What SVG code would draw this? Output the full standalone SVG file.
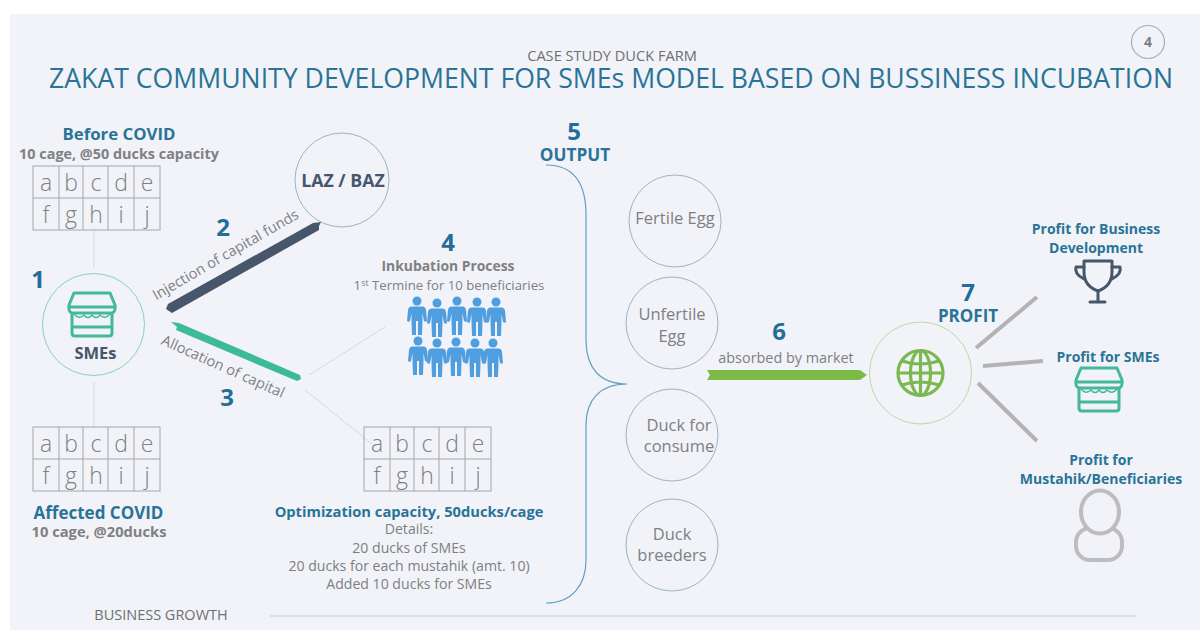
<svg xmlns="http://www.w3.org/2000/svg" xmlns:xlink="http://www.w3.org/1999/xlink" width="1200" height="630" viewBox="0 0 1200 630">
<style>
text{font-family:"Open Sans","Noto Sans","Liberation Sans",sans-serif;text-anchor:middle}
.gd{fill:#808080;font-weight:700}
.b{fill:#2a7396;font-weight:700}
.n{fill:#1f6f98;font-weight:700;font-size:24px}
.c{font-size:16.5px;fill:#808080}
.cell{font-size:23px;fill:#7f7f7f;font-weight:300}
.circ{fill:none;stroke:#9db4c0;stroke-width:1}
.thin{stroke:#d6d8dc;stroke-width:1;fill:none}
.gray{stroke:#b3b3b3;stroke-width:4;fill:none}
.grid{stroke:#a6a6a6;stroke-width:1;fill:none}
.st{fill:none;stroke:#43b89a;stroke-width:3;stroke-linejoin:round;stroke-linecap:round}
.st2{fill:none;stroke:#43b89a;stroke-width:1.5;stroke-linecap:round}
.p{fill:#4f9fe0}
.d{font-size:14.1px;fill:#7f7f7f}
.pt{font-size:14px}
</style>
<defs>
<g id="grid">
<rect x="0" y="0" width="127" height="64" class="grid"/>
<path d="M0 32H127M26 0V64M50 0V64M75 0V64M101 0V64" class="grid"/>
<text class="cell" x="13" y="25">a</text><text class="cell" x="38" y="25">b</text><text class="cell" x="63" y="25">c</text><text class="cell" x="88" y="25">d</text><text class="cell" x="114" y="25">e</text>
<text class="cell" x="13" y="57">f</text><text class="cell" x="38" y="57">g</text><text class="cell" x="63" y="57">h</text><text class="cell" x="88" y="57">i</text><text class="cell" x="114" y="57">j</text>
</g>
<g id="store">
<path class="st" d="M6 1H42L47 13Q48 20 44 21H4Q0 20 1 13ZM1 15H47M4 21V41Q4 44 7 44H41Q44 44 44 41V21M4 35H44"/>
<path class="st2" d="M6 22Q11 28 16 23Q20 28 24 23Q28 28 32 23Q37 28 42 22"/>
</g>
<g id="man" class="p">
<circle cx="0" cy="-15" r="4.500"/>
<path d="M-5.500 -9.500H5.500Q8.500 -9.500 9 -6L10 5Q8.500 6.500 7 5L5.500 -3V5L5 19H1V5H-1V19H-5L-5.500 5V-3L-7 5Q-8.500 6.500 -10 5L-9 -6Q-8.500 -9.500 -5.500 -9.500Z"/>
</g>
</defs>
<rect x="0" y="0" width="1200" height="630" fill="#ffffff"/>
<rect x="10" y="14" width="1190" height="616" fill="#f1f3f9"/>

<g id="header">
<text x="612" y="61" style="font-size:14.600px" fill="#6f6f6f">CASE STUDY DUCK FARM</text>
<text x="611" y="88" style="font-size:27px" fill="#2a7396" textLength="1124" lengthAdjust="spacingAndGlyphs">ZAKAT COMMUNITY DEVELOPMENT FOR SMEs MODEL BASED ON BUSSINESS INCUBATION</text>
<circle cx="1148" cy="42" r="16.500" fill="none" stroke="#a9aeb3" stroke-width="1.200"/>
<text x="1148" y="47" style="font-size:14px;font-weight:700" fill="#7a7f85">4</text>
</g>

<g id="connectors">
<path class="thin" d="M94 230V268M94 382V427M309 375L385 327M305 390L372 444"/>
<path d="M166 309L168 304L313 223L321 222L319 226L319 230L172 313Z" fill="#47566b"/>
<path d="M171 322L179 323L300 375L301 379L297 381L176 330L177 327Z" fill="#3dbb98"/>
<path d="M707 370H860L867 375L860 380H707L710 375Z" fill="#7cba4a"/>
<path d="M976 348L1037 297M983 366L1043 361M978 383L1037 441" class="gray"/>
<path d="M270 616H1137" stroke="#c8cbd0" stroke-width="1" fill="none"/>
<path d="M546 165C575 165 586 185 586 215V340C586 368 600 384 627 384C600 384 586 400 586 425V560C586 585 572 603 546 603" fill="none" stroke="#5f9fc0" stroke-width="1.200"/>
</g>

<g id="before-covid">
<text class="b" x="119" y="140" style="font-size:16.800px">Before COVID</text>
<text class="gd" x="119" y="159" style="font-size:14.400px">10 cage, @50 ducks capacity</text>
<use xlink:href="#grid" href="#grid" x="33" y="166"/>
</g>

<g id="smes">
<text class="n" x="38" y="288">1</text>
<circle cx="93.500" cy="324.500" r="51" fill="none" stroke="#86d2bc"/>
<use xlink:href="#store" href="#store" x="68" y="292"/>
<text x="95.500" y="359" style="font-size:16.500px;font-weight:700" fill="#47566b">SMEs</text>
</g>

<g id="affected-covid">
<use xlink:href="#grid" href="#grid" x="33" y="427"/>
<text class="b" x="98.500" y="519" style="font-size:17px">Affected COVID</text>
<text class="gd" x="99" y="537" style="font-size:14.700px">10 cage, @20ducks</text>
</g>

<g id="laz-baz">
<circle cx="342" cy="180" r="47" class="circ"/>
<text x="343" y="187" style="font-size:17.800px;font-weight:700" fill="#47566b">LAZ / BAZ</text>
</g>

<g id="label-2">
<text class="n" x="223" y="236">2</text>
<text transform="translate(228,259) rotate(-30)" style="font-size:14.500px" fill="#808080">Injection of capital funds</text>
</g>
<g id="label-3">
<text transform="translate(221,371) rotate(24)" style="font-size:14.600px" fill="#808080">Allocation of capital</text>
<text class="n" x="227" y="406">3</text>
</g>

<g id="incubation">
<text class="n" x="448" y="251">4</text>
<text class="gd" x="448" y="271" style="font-size:13.900px">Inkubation Process</text>
<text x="449" y="290" style="font-size:13.200px" fill="#808080">1<tspan dy="-4" style="font-size:9px">st</tspan><tspan dy="4"> Termine for 10 beneficiaries</tspan></text>
<use xlink:href="#man" href="#man" x="417" y="316"/><use xlink:href="#man" href="#man" x="437" y="318"/><use xlink:href="#man" href="#man" x="457" y="316"/><use xlink:href="#man" href="#man" x="477" y="317"/><use xlink:href="#man" href="#man" x="496" y="317"/>
<use xlink:href="#man" href="#man" x="418" y="356"/><use xlink:href="#man" href="#man" x="437" y="358"/><use xlink:href="#man" href="#man" x="456" y="357"/><use xlink:href="#man" href="#man" x="475" y="358"/><use xlink:href="#man" href="#man" x="493" y="358"/>
</g>

<g id="optimization">
<use xlink:href="#grid" href="#grid" x="364" y="427"/>
<text class="b" x="409" y="517" style="font-size:14.700px">Optimization capacity, 50ducks/cage</text>
<text class="d" x="409" y="534">Details:</text>
<text class="d" x="409" y="553">20 ducks of SMEs</text>
<text class="d" x="409" y="571">20 ducks for each mustahik (amt. 10)</text>
<text class="d" x="409" y="589">Added 10 ducks for SMEs</text>
</g>

<g id="output">
<text class="n" x="574" y="140">5</text>
<text class="b" x="575" y="161" style="font-size:17.200px">OUTPUT</text>
</g>

<g id="fertile-egg">
<circle cx="675" cy="221" r="46" class="circ"/>
<text class="c" x="675" y="224">Fertile Egg</text>
</g>
<g id="unfertile-egg">
<circle cx="672" cy="323" r="46" class="circ"/>
<text class="c" x="672" y="320">Unfertile</text><text class="c" x="672" y="342">Egg</text>
</g>
<g id="duck-consume">
<circle cx="672" cy="435" r="46" class="circ"/>
<text class="c" x="679" y="431">Duck for</text><text class="c" x="679" y="452">consume</text>
</g>
<g id="duck-breeders">
<circle cx="672" cy="545" r="46" class="circ"/>
<text class="c" x="672" y="540">Duck</text><text class="c" x="672" y="561">breeders</text>
</g>

<g id="label-6">
<text class="n" x="779" y="340">6</text>
<text x="786" y="363" style="font-size:14.400px" fill="#7f7f7f">absorbed by market</text>
</g>

<g id="profit">
<text class="n" x="968" y="301">7</text>
<text class="b" x="968" y="322" style="font-size:17px">PROFIT</text>
<circle cx="920.500" cy="373" r="51" fill="none" stroke="#b9dc9b"/>
<g fill="none" stroke="#7cb850" stroke-width="3.200">
<circle cx="920.500" cy="373" r="22.500"/>
<ellipse cx="920.500" cy="373" rx="10" ry="22.500"/>
<path d="M920.500 351V395M898 373H943M902 361Q920 367 939 361M902 385Q920 379 939 385"/>
</g>
</g>

<g id="profit-business">
<text class="b pt" x="1096" y="234">Profit for Business</text>
<text class="b pt" x="1096" y="253">Development</text>
<g fill="none" stroke="#47566b" stroke-width="3" stroke-linejoin="round" stroke-linecap="round">
<path d="M1084 261H1112V272Q1112 286 1098 291Q1084 286 1084 272Z"/>
<path d="M1084 267H1076Q1074 274 1084 279M1112 267H1120Q1122 274 1112 279"/>
<path d="M1098 291V302M1090 302H1105"/>
</g>
</g>

<g id="profit-smes">
<text class="b pt" x="1108" y="362">Profit for SMEs</text>
<use xlink:href="#store" href="#store" x="1075" y="367"/>
</g>

<g id="profit-mustahik">
<text class="b pt" x="1101" y="465">Profit for</text>
<text class="b pt" x="1101" y="484">Mustahik/Beneficiaries</text>
<g stroke="#bdbdbf" stroke-width="4">
<rect x="1076" y="528" width="46" height="32" rx="14" fill="none"/>
<ellipse cx="1100" cy="512" rx="19" ry="21.500" fill="#f1f3f9"/>
</g>
</g>

<g id="footer">
<text x="161" y="620" style="font-size:14.500px" fill="#6f6f6f">BUSINESS GROWTH</text>
</g>
</svg>
